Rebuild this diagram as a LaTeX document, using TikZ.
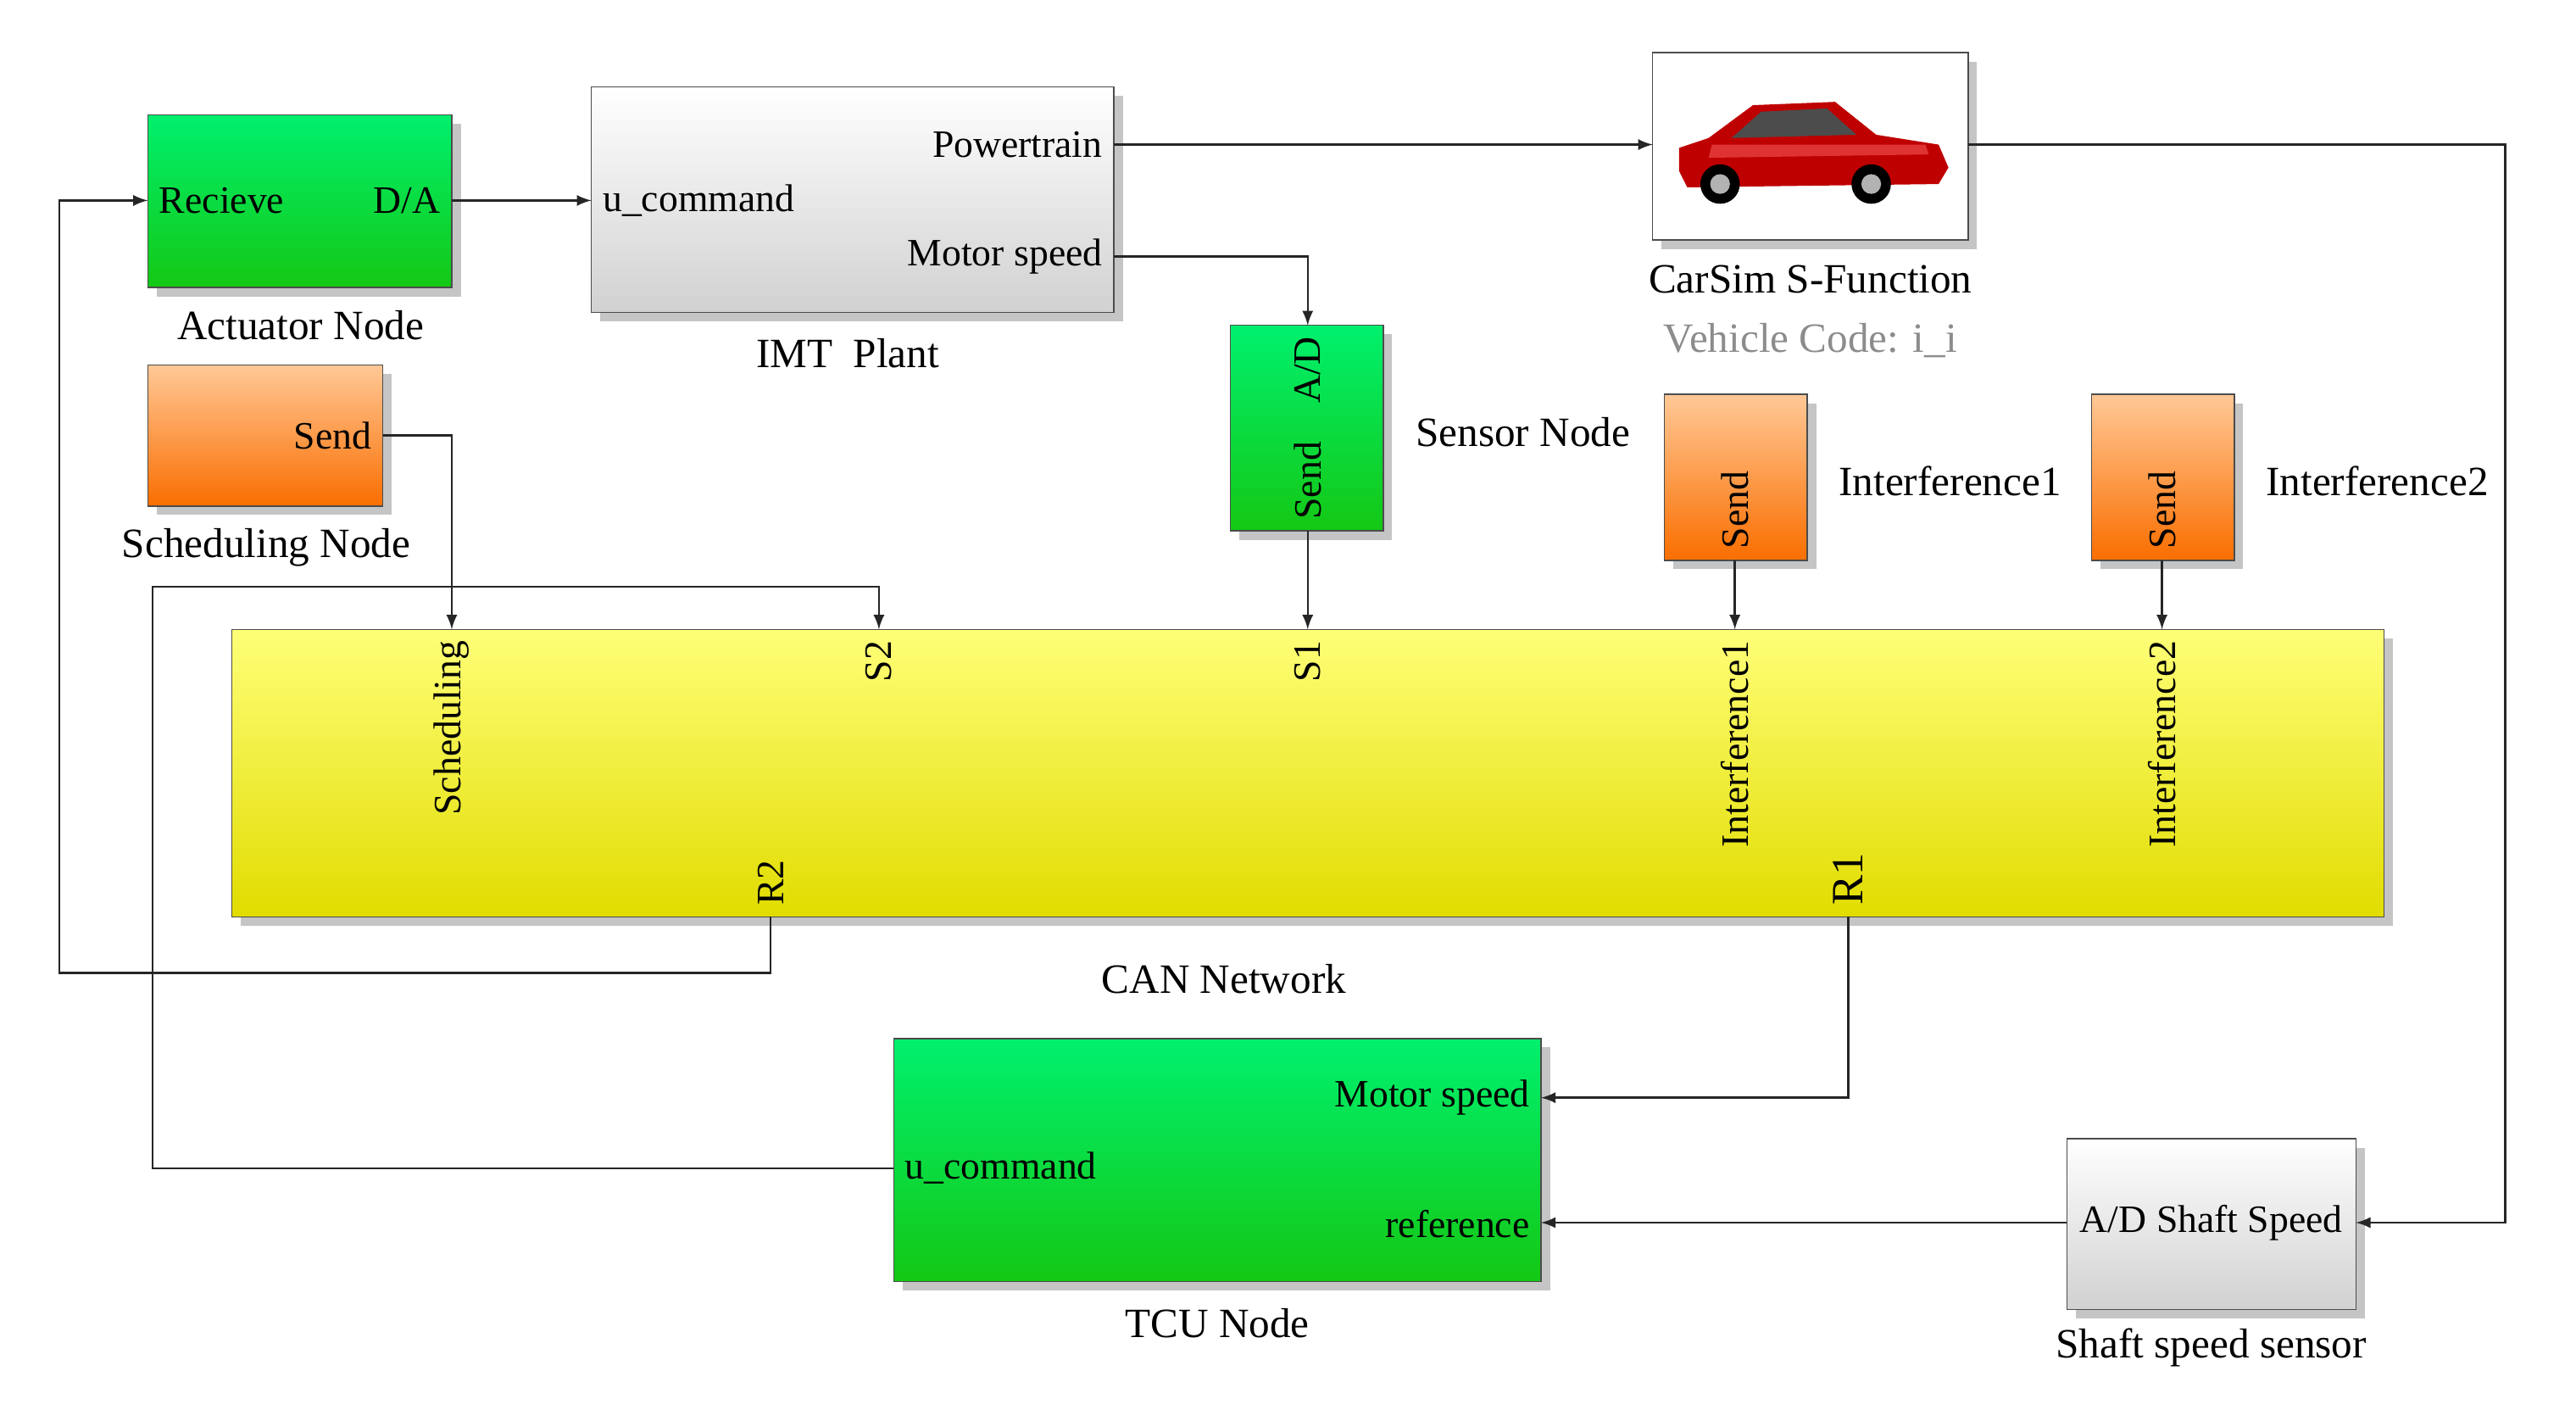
\documentclass[tikz,border=0pt]{standalone}
\usepackage{fontspec}
\setmainfont{Liberation Serif}
\usetikzlibrary{shadows}
\definecolor{greenTop}{RGB}{0,240,110}
\definecolor{greenBot}{RGB}{20,200,20}
\definecolor{orangeTop}{RGB}{255,200,150}
\definecolor{orangeBot}{RGB}{250,110,0}
\definecolor{yellowTop}{RGB}{255,255,120}
\definecolor{yellowBot}{RGB}{225,220,0}
\tikzset{
	every block/.style={
		draw=black!70,
		drop shadow={shadow xshift=3pt, shadow yshift=-3pt, fill=black!45},
		inner sep=0pt
	},
	block green/.style={top color=greenTop, bottom color=greenBot},
	block orange/.style={top color=orangeTop, bottom color=orangeBot},
	block gray/.style={top color=white, bottom color=black!18},
	block yellow/.style={top color=yellowTop, bottom color=yellowBot},
	caption/.style={font=\fontsize{14}{16}\selectfont},
	port/.style={font=\fontsize{13}{15}\selectfont, inner sep=2pt},
	wire/.style={draw=black!85, line width=0.7pt},
}
\begin{document}
\begin{tikzpicture}[x=0.01938cm, y=-0.01938cm, >=latex]
\useasboundingbox (0,0) rectangle (1568,858);

% blocks
\path [every block/.try, block green] (90,70) rectangle (275,175);
\path [every block/.try, block gray] (360,53) rectangle (678,190);
\path [every block/.try, draw=black!70, fill=white] (1006,32) rectangle (1198,146);
\path [every block/.try, block orange] (90,222) rectangle (233,308);
\path [every block/.try, block green] (749,198) rectangle (842,323);
\path [every block/.try, block orange] (1013,240) rectangle (1100,341);
\path [every block/.try, block orange] (1273,240) rectangle (1360,341);
\path [every block/.try, block yellow] (141,383) rectangle (1451,558);
\path [every block/.try, block green] (544,632) rectangle (938,780);
\path [every block/.try, block gray] (1258,693) rectangle (1434,797);

% car
\begin{scope}[shift={(1102,92)}]
	\fill [red!75!black] (-80,12) -- (-80,-2) -- (-62,-8) -- (-35,-28) -- (15,-30) -- (40,-10) -- (78,-4) -- (84,10) -- (78,20) -- (-75,22) -- cycle;
	\fill [red!60!white, opacity=0.5] (-60,-4) -- (70,-4) -- (72,2) -- (-62,4) -- cycle;
	\fill [black!70] (-30,-24) -- (10,-26) -- (28,-10) -- (-48,-8) -- cycle;
	\fill [black] (-55,20) circle (12); \fill [black!30] (-55,20) circle (6);
	\fill [black] (37,20) circle (12); \fill [black!30] (37,20) circle (6);
\end{scope}

% ports and texts
\node [port, anchor=west] (act-in) at (93,122) {Recieve};
\node [port, anchor=east] (act-out) at (272,122) {D/A};
\node [port, anchor=west] (plant-in) at (363,122) {u\_command};
\node [port, anchor=east] (plant-pt) at (675,88) {Powertrain};
\node [port, anchor=east] (plant-ms) at (675,156) {Motor speed};
\node [port, anchor=east] (sched-out) at (230,265) {Send};
\node [port, rotate=90, anchor=east] (sens-ad) at (796,201) {A/D};
\node [port, rotate=90, anchor=west] (sens-send) at (796,320) {Send};
\node [port, rotate=90, anchor=west] (int1-send) at (1056,338) {Send};
\node [port, rotate=90, anchor=west] (int2-send) at (1316,338) {Send};
\node [port, rotate=90, anchor=east] (can-sched) at (275,386) {Scheduling};
\node [port, rotate=90, anchor=east] (can-s2) at (535,386) {S2};
\node [port, rotate=90, anchor=east] (can-s1) at (796,386) {S1};
\node [port, rotate=90, anchor=east] (can-i1) at (1056,386) {Interference1};
\node [port, rotate=90, anchor=east] (can-i2) at (1316,386) {Interference2};
\node [port, rotate=90, anchor=west] (can-r2) at (469,555) {R2};
\node [port, rotate=90, anchor=west] (can-r1) at (1125,555) {\fontsize{15}{17}\selectfont R1};
\node [port, anchor=east] (tcu-ms) at (935,668) {Motor speed};
\node [port, anchor=west] (tcu-u) at (547,711) {u\_command};
\node [port, anchor=east] (tcu-ref) at (935,745) {reference};
\node [port] (shaft) at (1346,744) {A/D Shaft Speed};

% captions
\node [caption] (cap-act) at (183,198) {Actuator Node};
\node [caption] (cap-plant) at (516,215) {IMT\ \ Plant};
\node [caption] (cap-car) at (1102,170) {CarSim S-Function};
\node [caption, text=black!45] (cap-code) at (1102,207) {Vehicle Code: i\_i};
\node [caption] (cap-sched) at (162,333) {Scheduling Node};
\node [caption] (cap-sens) at (927,263) {Sensor Node};
\node [caption] (cap-int1) at (1187,293) {Interference1};
\node [caption] (cap-int2) at (1447,293) {Interference2};
\node [caption] (cap-can) at (745,596) {CAN Network};
\node [caption] (cap-tcu) at (741,805) {TCU Node};
\node [caption] (cap-shaft) at (1346,820) {Shaft speed sensor};

% wires
\coordinate (car-in) at (1006,88);
\coordinate (car-out) at (1198,88);
\coordinate (shaft-in) at (1434,744);
\coordinate (shaft-out) at (1258,744);
\draw [wire, ->] (275,122) -- (360,122);
\draw [wire, ->] (678,88) -- (car-in);
\draw [wire, ->] (car-out) -- (1525,88) |- (shaft-in);
\draw [wire, ->] (678,156) -| (796,198);
\draw [wire, ->] (796,323) -- (796,383);
\draw [wire, ->] (233,265) -| (275,383);
\draw [wire, ->] (1056,341) -- (1056,383);
\draw [wire, ->] (1316,341) -- (1316,383);
\draw [wire, ->] (544,711) -- (93,711) -- (93,357) -| (535,383);
\draw [wire, ->] (469,558) -- (469,592) -- (36,592) |- (90,122);
\draw [wire, ->] (1125,558) |- (938,668);
\draw [wire, ->] (shaft-out) -- (938,744);
\end{tikzpicture}
\end{document}
